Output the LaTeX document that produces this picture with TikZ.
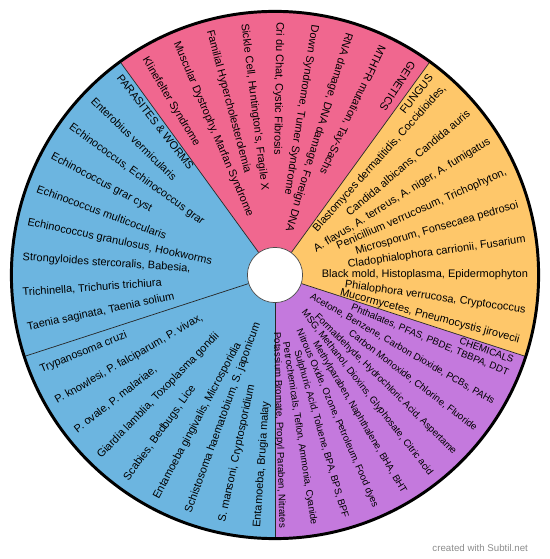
\documentclass[tikz,border=0pt]{standalone}
\usepackage{fontspec}
\setmainfont{Liberation Sans}
\usepackage{xcolor}
\definecolor{genpink}{HTML}{F0678F}
\definecolor{fungorange}{HTML}{FEC76A}
\definecolor{chempurple}{HTML}{C479DD}
\definecolor{parablue}{HTML}{6CB5E0}
\newcommand{\outerR}{6.59}
\newcommand{\innerR}{0.69}
\newcommand{\textR}{6.33}

\begin{document}
\begin{tikzpicture}[
  lbl/.style={font=\fontsize{7.8}{9}\selectfont, inner sep=0pt},
  inlbl/.style={lbl, anchor=west, rotate=#1+180},
  outlbl/.style={lbl, anchor=east, rotate=#1},
  chemlbl/.style={outlbl=#1, font=\fontsize{6.9}{8}\selectfont},
  divider/.style={draw=black!85, line width=0.5pt}]
  \useasboundingbox (-6.875,-7.1) rectangle (6.875,6.875);

  % sectors
  \fill[genpink] (0,0) -- (54:\outerR) arc[start angle=54, end angle=126, radius=\outerR] -- cycle;
  \fill[parablue] (0,0) -- (126:\outerR) arc[start angle=126, end angle=270, radius=\outerR] -- cycle;
  \fill[chempurple] (0,0) -- (-90:\outerR) arc[start angle=-90, end angle=-18, radius=\outerR] -- cycle;
  \fill[fungorange] (0,0) -- (-18:\outerR) arc[start angle=-18, end angle=54, radius=\outerR] -- cycle;
  \foreach \a in {54,126,198,270,342}
    \draw[divider] (\a:\innerR) -- (\a:\outerR);

  % genetics, read inwards
  \node[inlbl=57] (genetics) at (57:\textR) {GENETICS};
  \foreach \a/\t [count=\i] in {65/{MTHFR mutation, Tay-Sachs},
      73/{RNA damage, DNA damage, Foreign DNA}, 81/{Down Syndrome, Turner Syndrome},
      89/{Cri du Chat, Cystic Fibrosis}, 97/{Sickle Cell, Huntington's, Fragile X},
      105/{Familial Hypercholesterolemia}, 113/{Muscular Dystrophy, Marfan Syndrome},
      121/{Klinefelter Syndrome}}
    \node[inlbl=\a] (gen\i) at (\a:\textR) {\t};

  % parasites & worms, read inwards
  \node[inlbl=128] (parasites) at (128:\textR) {PARASITES \& WORMS};
  \foreach \a/\t [count=\i] in {136/{Enterobius vermicularis},
      144/{Echinococcus, Echinococcus grar}, 152/{Echinococcus grar cyst},
      160/{Echinococcus multicocularis}, 168/{Echinococcus granulosus, Hookworms},
      176/{Strongyloides stercoralis, Babesia,}, 184/{Trichinella, Trichuris trichiura},
      192/{Taenia saginata, Taenia solium}, 202/{Trypanosoma cruzi},
      210/{P. knowlesi, P. falciparum, P. vivax,}, 218/{P. ovale, P. malariae,},
      226/{Giardia lamblia, Toxoplasma gondii}, 234/{Scabies, Bedbugs, Lice},
      242/{Entamoeba gingivalis, Microsporidia}, 250/{Schistosoma haematobium, S. japonicum},
      258/{S. mansoni, Cryptosporidium}, 266/{Entamoeba, Brugia malay}}
    \node[inlbl=\a] (par\i) at (\a:\textR) {\t};

  % fungus, read outwards
  \node[outlbl=52] (fungus) at (52:\textR) {FUNGUS};
  \foreach \a/\t [count=\i] in {48/{Blastomyces dermatitidis, Coccidioides,},
      40/{Candida albicans, Candida auris}, 32/{A. flavus, A. terreus, A. niger, A. fumigatus},
      24/{Penicillium verrucosum, Trichophyton,}, 16/{Microsporum, Fonsecaea pedrosoi},
      8/{Cladophialophora carrionii, Fusarium}, 0/{Black mold, Histoplasma, Epidermophyton},
      -8/{Phialophora verrucosa, Cryptococcus}, -15/{Mucormycetes, Pneumocystis jirovecii}}
    \node[outlbl=\a] (fun\i) at (\a:\textR) {\t};

  % chemicals, read outwards, a bit smaller
  \node[chemlbl=-19.6] (chemicals) at (-19.6:\textR) {CHEMICALS};
  \foreach \a/\t [count=\i] in {-22.8/{Phthalates, PFAS, PBDE, TBBPA, DDT},
      -30.1/{Acetone, Benzene, Carbon Dioxide, PCBs, PAHs},
      -37.4/{Carbon Monoxide, Chlorine, Fluoride},
      -44.7/{Formaldehyde, Hydrochloric Acid, Aspertame},
      -52/{MSG, Methanol, Dioxins, Glyphosate, Citric acid},
      -59.3/{Methylparaben, Naphthalene, BHA, BHT},
      -66.6/{Nitrous Oxide, Ozone, Petroleum, Food dyes},
      -73.9/{Sulphuric Acid, Toluene, BPA, BPS, BPF},
      -81.2/{Petrochemicals, Teflon, Ammonia, Cyanide},
      -88.4/{Potassium Bromate, Propyl Paraben, Nitrates}}
    \node[chemlbl=\a] (chem\i) at (\a:\textR) {\t};

  % hub and rim
  \draw[fill=white, draw=black!70, line width=0.5pt] (0,0) circle[radius=\innerR];
  \draw[line width=2.1pt] (0,0) circle[radius=\outerR];

  \node[font=\fontsize{6.9}{8}\selectfont, text=black!45, anchor=east, inner sep=0pt] (credit)
    at (6.33,-6.83) {created with Subtil.net};
\end{tikzpicture}
\end{document}
